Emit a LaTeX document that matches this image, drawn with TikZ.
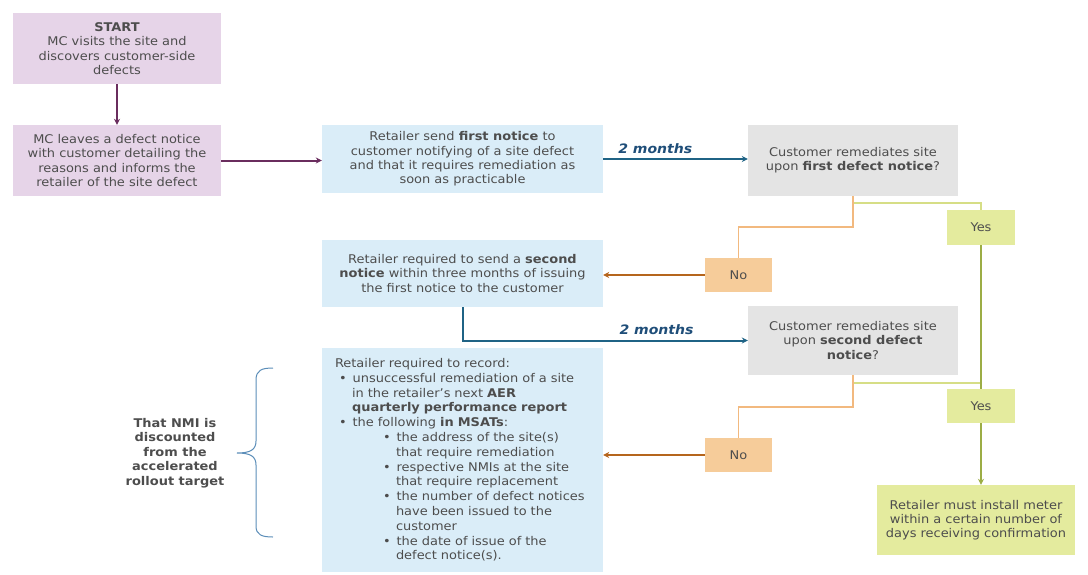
\documentclass[tikz,border=0pt]{standalone}
\usepackage{fontspec}
\setmainfont{DejaVu Sans}[FakeStretch=1.08]
\usetikzlibrary{arrows.meta}

\definecolor{txtgray}{HTML}{4D4D4D}
\definecolor{purplefill}{HTML}{E6D4E8}
\definecolor{purpleline}{HTML}{6A2D5E}
\definecolor{bluefill}{HTML}{DAEDF8}
\definecolor{blueline}{HTML}{1F6385}
\definecolor{monthblue}{HTML}{1F4E79}
\definecolor{grayfill}{HTML}{E4E4E4}
\definecolor{yesfill}{HTML}{E4EB9E}
\definecolor{yesline}{HTML}{D6DE86}
\definecolor{yesmain}{HTML}{9CAD45}
\definecolor{nofill}{HTML}{F6CC9A}
\definecolor{noline}{HTML}{F2B97F}
\definecolor{noarrow}{HTML}{B5651D}
\definecolor{bracecol}{HTML}{5B8DB8}

\begin{document}
\begin{tikzpicture}[x=1pt,y=-1pt,
    box/.style={inner sep=2pt,align=center,text=txtgray,
      font=\fontsize{12}{14.3}\selectfont},
    mcbox/.style={box,fill=purplefill,minimum width=208pt,minimum height=71pt},
    retbox/.style={box,fill=bluefill,minimum width=281pt,minimum height=68pt},
    askbox/.style={box,fill=grayfill,minimum width=210pt,minimum height=70pt},
    yesbox/.style={box,fill=yesfill,minimum width=68pt,minimum height=35pt},
    nobox/.style={box,fill=nofill,minimum width=67pt,minimum height=34pt},
    mcarrow/.style={purpleline,line width=2pt,-{Stealth[length=6pt,width=6pt]}},
    waitarrow/.style={blueline,line width=2pt,-{Stealth[length=6pt,width=6pt]}},
    noarrowstyle/.style={noarrow,line width=2pt,-{Stealth[length=6pt,width=6pt]}},
    yeslink/.style={yesline,line width=1.5pt},
    nolink/.style={noline,line width=1.5pt},
    yespath/.style={yesmain,line width=2pt},
    months/.style={text=monthblue,font=\fontsize{13}{15}\selectfont\bfseries\itshape}]
  \useasboundingbox (0,0) rectangle (1088,574);

  % MC side
  \node[mcbox] (start) at (117,48.5) {\textbf{START}\\MC visits the site and\\discovers customer-side\\defects};
  \node[mcbox] (leave) at (117,160.5) {MC leaves a defect notice\\with customer detailing the\\reasons and informs the\\retailer of the site defect};

  % retailer
  \node[retbox] (notice1) at (462.5,159) {Retailer send \textbf{first notice} to\\customer notifying of a site defect\\and that it requires remediation as\\soon as practicable};
  \node[retbox,minimum height=67pt] (notice2) at (462.5,273.5) {Retailer required to send a \textbf{second}\\\textbf{notice} within three months of issuing\\the first notice to the customer};
  \node[retbox,minimum height=224pt,align=left,text width=255pt,inner xsep=13pt,
    font=\fontsize{12}{14.8}\selectfont] (record) at (462.5,460) {Retailer required to record:\\
    \hspace*{4pt}\textbullet\hspace*{6pt}unsuccessful remediation of a site\\
    \hspace*{17pt}in the retailer's next \textbf{AER}\\
    \hspace*{17pt}\textbf{quarterly performance report}\\
    \hspace*{4pt}\textbullet\hspace*{6pt}the following \textbf{in MSATs}:\\
    \hspace*{48pt}\textbullet\hspace*{6pt}the address of the site(s)\\
    \hspace*{61pt}that require remediation\\
    \hspace*{48pt}\textbullet\hspace*{6pt}respective NMIs at the site\\
    \hspace*{61pt}that require replacement\\
    \hspace*{48pt}\textbullet\hspace*{6pt}the number of defect notices\\
    \hspace*{61pt}have been issued to the\\
    \hspace*{61pt}customer\\
    \hspace*{48pt}\textbullet\hspace*{6pt}the date of issue of the\\
    \hspace*{61pt}defect notice(s).};

  % customer decisions
  \node[askbox,minimum height=71pt] (q1) at (853,160.5) {Customer remediates site\\upon \textbf{first defect notice}?};
  \node[askbox,minimum height=69pt] (q2) at (853,340.5) {Customer remediates site\\upon \textbf{second defect}\\\textbf{notice}?};
  \node[yesbox] (yes1) at (981,227.5) {Yes};
  \node[yesbox,minimum height=34pt] (yes2) at (981,406) {Yes};
  \node[nobox] (no1) at (738.5,275) {No};
  \node[nobox] (no2) at (738.5,455) {No};
  \node[box,fill=yesfill,minimum width=198pt,minimum height=70pt] (final) at (976,520) {Retailer must install meter\\within a certain number of\\days receiving confirmation};

  % discount note
  \node[box,font=\fontsize{12}{14.6}\selectfont\bfseries] (discount) at (175,453) {That NMI is\\discounted\\from the\\accelerated\\rollout target};

  % flow
  \draw[mcarrow] (start) -- (leave);
  \draw[mcarrow] (leave.east) -- (leave.east -| notice1.west);
  \draw[waitarrow] (notice1.east) -- (notice1.east -| q1.west)
    node[months,pos=0.36,above=1pt] (wait1) {2 months};
  \draw[waitarrow] (notice2.south) |- (q2.west)
    node[months,pos=0.84,above=1pt] (wait2) {2 months};

  \draw[yeslink] (q1.south) -- ++(0,7) -| (yes1.north);
  \draw[nolink] (q1.south) -- ++(0,31) -| (no1.north);
  \draw[yeslink] (q2.south) -- ++(0,8) -| (yes2.north);
  \draw[nolink] (q2.south) -- ++(0,32) -| (no2.north);

  \draw[noarrowstyle] (no1.west) -- (no1.west -| notice2.east);
  \draw[noarrowstyle] (no2.west) -- (no2.west -| record.east);

  \draw[yespath] (yes1.south) -- (yes2.north);
  \draw[yespath,-{Stealth[length=6pt,width=6pt]}] (yes2.south) -- (yes2.south |- final.north);

  % brace
  \coordinate (tip) at (237,453);
  \draw[bracecol,line width=1pt] (273,368) .. controls (262,368) and (256,370) .. (256,380)
    -- (256,441) .. controls (256,450) and (250,453) .. (tip)
    .. controls (250,453) and (256,456) .. (256,465)
    -- (256,526) .. controls (256,535) and (262,537) .. (273,537);
\end{tikzpicture}
\end{document}
